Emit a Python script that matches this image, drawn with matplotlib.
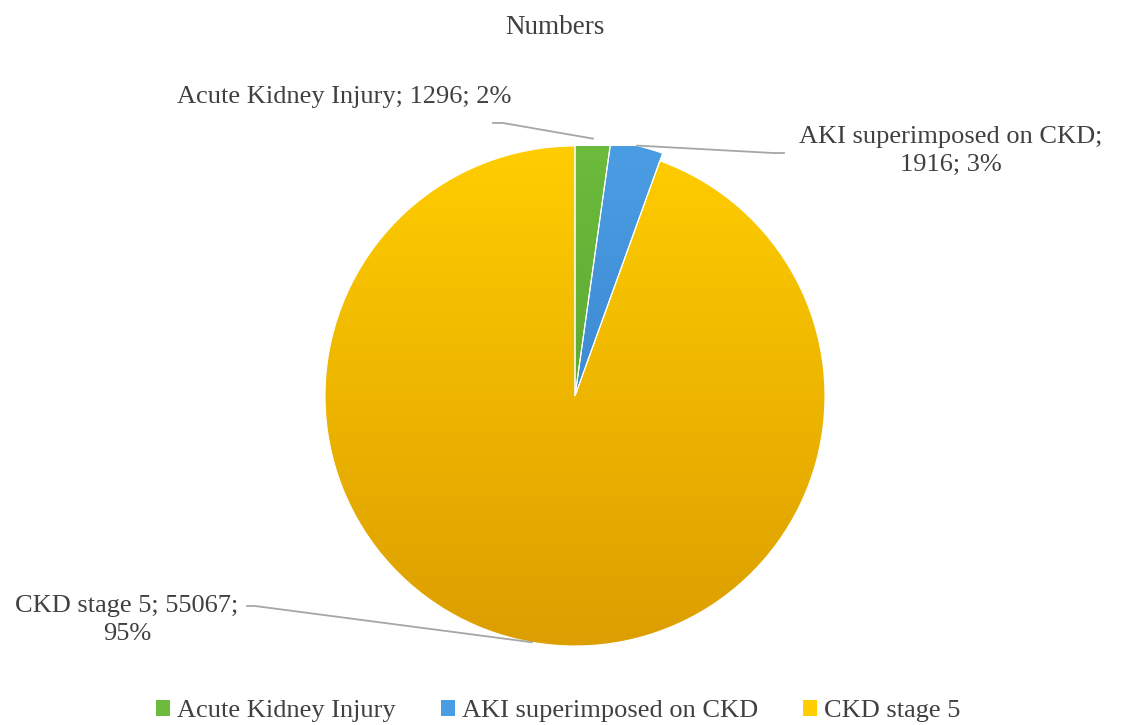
import numpy as np
import matplotlib.pyplot as plt
from matplotlib.colors import LinearSegmentedColormap
from matplotlib.patches import Patch

plt.rcParams['font.family'] = ['Liberation Serif', 'DejaVu Serif']

# data
categories = ["Acute Kidney Injury", "AKI superimposed on CKD", "CKD stage 5"]
counts = [1296, 1916, 55067]
pct_labels = ["2%", "3%", "95%"]
top_colors = ["#6cbb3c", "#4b9de3", "#ffcd00"]
bottom_colors = ["#4e9a2b", "#2f78c2", "#dc9e00"]
title = "Numbers"

W, H = 1124, 725
TXT = "#404040"
LINE = "#a6a6a6"

fig = plt.figure(figsize=(11.24, 7.25), dpi=100)
ax = fig.add_axes([0, 0, 1, 1])

cx, cy = 575, H - 396
R = 250
wedges, _ = ax.pie(counts, startangle=90, counterclock=False, radius=R,
                   center=(cx, cy), frame=True)

# small slices are drawn a bit larger than the main one
for w in wedges[:2]:
    w.set_radius(258)

grad = np.linspace(0, 1, 256).reshape(-1, 1)
for w, c0, c1 in zip(wedges, top_colors, bottom_colors):
    cmap = LinearSegmentedColormap.from_list("g", [c0, c1])
    im = ax.imshow(grad, extent=(cx - R, cx + R, cy - R, cy + R), origin="upper",
                   cmap=cmap, aspect="auto", zorder=1, interpolation="bilinear")
    im.set_clip_path(w)
    w.set_facecolor("none")
    w.set_edgecolor("white")
    w.set_linewidth(0.8)
    w.set_zorder(2)

# data labels with leader lines
label_text = [f"{categories[0]}; {counts[0]}; {pct_labels[0]}",
              f"{categories[1]};\n{counts[1]}; {pct_labels[1]}",
              f"{categories[2]}; {counts[2]};\n{pct_labels[2]}"]
label_pos = [(177, 97, "left"), (951, 151, "center"), (127, 620, "center")]
elbows = [[(493, 123), (503, 123)], [(784, 153), (773, 153)], [(247, 606), (255, 606)]]

for w, txt, (lx, ly, ha), elb in zip(wedges, label_text, label_pos, elbows):
    mid = np.deg2rad((w.theta1 + w.theta2) / 2)
    ax_pt = (cx + w.r * np.cos(mid), cy + w.r * np.sin(mid))
    ax.text(lx, H - ly, txt, ha=ha, va="center", multialignment="center",
            fontsize=19, color=TXT, linespacing=1.32)
    xs = [p[0] for p in elb] + [ax_pt[0]]
    ys = [H - p[1] for p in elb] + [ax_pt[1]]
    ax.plot(xs, ys, color=LINE, lw=1.3, zorder=3)

ax.text(555, H - 27, title, ha="center", va="center", fontsize=19.5, color=TXT)

handles = [Patch(facecolor=c) for c in top_colors]
fig.legend(handles, categories, loc="center", bbox_to_anchor=(558 / W, (H - 711) / H),
           ncol=3, frameon=False, fontsize=19, handlelength=0.55, handleheight=0.55,
           handletextpad=0.25, columnspacing=1.7, labelcolor=TXT)

ax.set_xlim(0, W)
ax.set_ylim(0, H)
ax.axis("off")

fig.savefig("out.png", dpi=100)
